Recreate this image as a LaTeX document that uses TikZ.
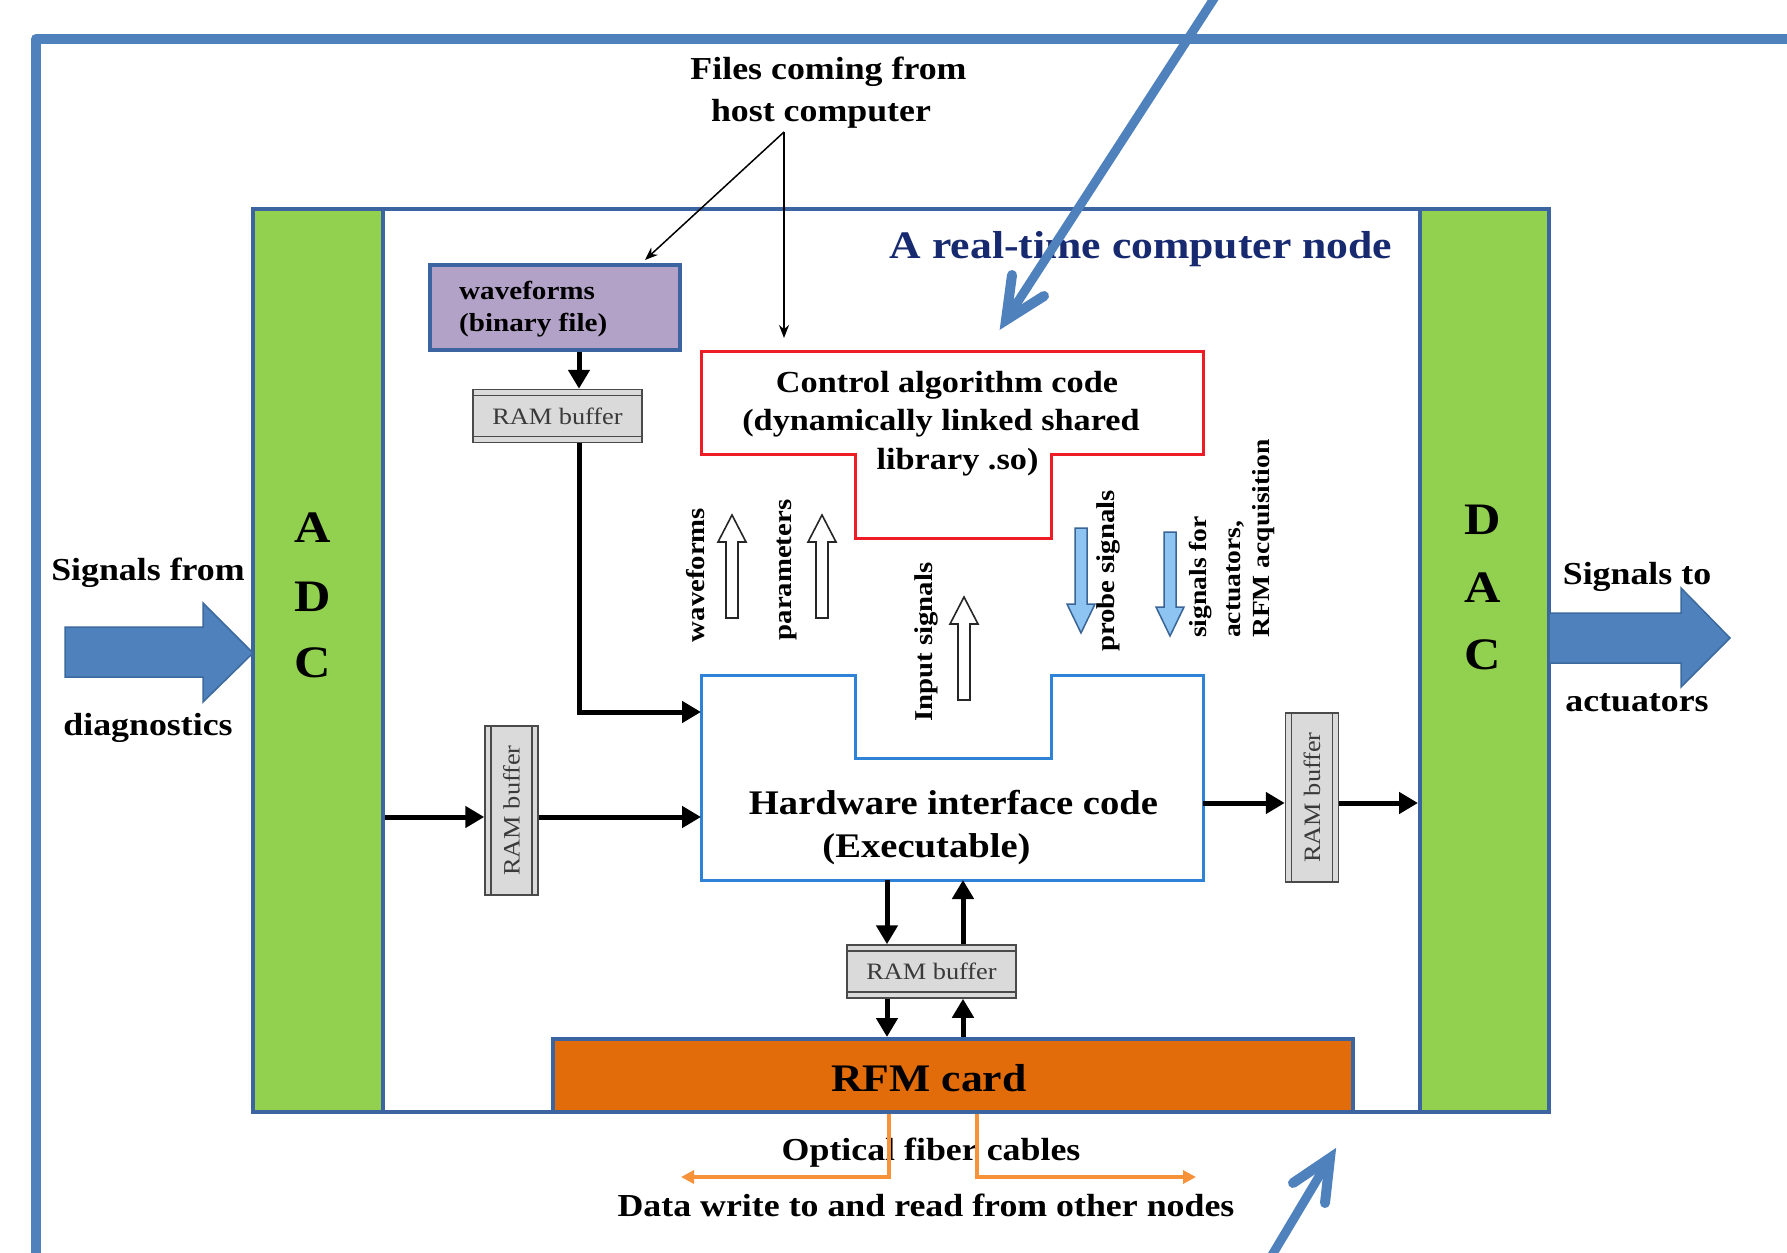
\documentclass[tikz,border=0pt]{standalone}
\usepackage{graphicx}
\usepackage{fontspec}
\setmainfont{Liberation Serif}[FakeStretch=1.12]
\usetikzlibrary{arrows.meta,calc}
\definecolor{frameblue}{HTML}{4F81BD}
\definecolor{boxblue}{HTML}{3B64A0}
\definecolor{adcgreen}{HTML}{92D050}
\definecolor{lav}{HTML}{B3A2C7}
\definecolor{ctrlred}{HTML}{EE1C25}
\definecolor{hwblue}{HTML}{2F83D6}
\definecolor{titlenavy}{HTML}{172A70}
\definecolor{rfmorange}{HTML}{E36C0A}
\definecolor{fiber}{HTML}{F7923A}
\definecolor{lightblue}{HTML}{8DC4F2}
\definecolor{ramgray}{HTML}{DADADA}
\definecolor{ramedge}{HTML}{4A4A4A}
\definecolor{ramtext}{HTML}{3A3A3A}
\definecolor{arrowedge}{HTML}{3A6496}
\definecolor{bigedge}{HTML}{3C6A9E}
\newcommand\fsz[1]{\fontsize{#1pt}{#1pt}\selectfont}
% x, tail y, tip y, head-base y, style
\newcommand\fatarr[5]{%
  \draw[#5] ({#1-6},{#2}) -- ({#1-6},{#4}) -- ({#1-14},{#4}) -- ({#1},{#3})
    -- ({#1+14},{#4}) -- ({#1+6},{#4}) -- ({#1+6},{#2}) -- cycle;}
\tikzset{
  lbl/.style={inner sep=0pt, font=\bfseries\fsz{32}},
  rlbl/.style={inner sep=0pt, rotate=90, font=\bfseries\fsz{25.7}},
  letter/.style={inner sep=0pt, font=\bfseries\fsz{45}},
  barrow/.style={line width=5pt, -{Triangle[length=19pt,width=21pt]}},
  thinarrow/.style={line width=1.5pt, -{Stealth[length=13pt,width=10pt]}},
  fiberarrow/.style={draw=fiber, line width=3.5pt, -{Triangle[length=13pt,width=13pt]}},
  hollow/.style={draw=black!85, fill=white, line width=1.6pt},
  bluearr/.style={draw=arrowedge, fill=lightblue, line width=1.5pt},
  bigarrow/.style={draw=bigedge, fill=frameblue, line width=1.5pt},
  ramh/.style={draw=ramedge, fill=ramgray, line width=1.5pt, minimum width=169pt,
    minimum height=53pt, inner sep=0pt, text=ramtext, font=\fsz{23.5},
    path picture={\draw[ramedge, line width=1.5pt]
      ([yshift=-6pt]path picture bounding box.north west) -- ([yshift=-6pt]path picture bounding box.north east)
      ([yshift=6pt]path picture bounding box.south west) -- ([yshift=6pt]path picture bounding box.south east);}},
  ramv/.style={draw=ramedge, fill=ramgray, line width=1.5pt, minimum width=53pt,
    minimum height=169pt, inner sep=0pt, text=ramtext, font=\fsz{23.5},
    path picture={\draw[ramedge, line width=1.5pt]
      ([xshift=6pt]path picture bounding box.north west) -- ([xshift=6pt]path picture bounding box.south west)
      ([xshift=-6pt]path picture bounding box.north east) -- ([xshift=-6pt]path picture bounding box.south east);}},
  blueline/.style={draw=frameblue, line cap=round},
}
\begin{document}
\begin{tikzpicture}[x=1pt,y=-1pt]
\useasboundingbox[fill=white] (0,0) rectangle (1787,1252);
\clip (0,0) rectangle (1787,1252);

% outer frame
\draw[frameblue, line width=10pt, line join=round] (36,1300) -- (36,39) -- (1820,39);

% real-time node box, ADC and DAC
\node[draw=boxblue, line width=4pt, minimum width=1296pt, minimum height=903pt, inner sep=0pt] (rt) at (901,660.5) {};
\node[draw=boxblue, fill=adcgreen, line width=4pt, minimum width=130pt, minimum height=903pt, inner sep=0pt] (adc) at (318,660.5) {};
\node[draw=boxblue, fill=adcgreen, line width=4pt, minimum width=129pt, minimum height=903pt, inner sep=0pt] (dac) at (1484.5,660.5) {};
\node[letter] (adcA) at (313,528) {A};
\node[letter] (adcD) at (313,597) {D};
\node[letter] (adcC) at (313,663) {C};
\node[letter] (dacD) at (1483,520) {D};
\node[letter] (dacA) at (1483,588) {A};
\node[letter] (dacC) at (1483,655) {C};

% big input / output arrows
\draw[bigarrow] (65,627) -- (203,627) -- (203,603) -- (253,653) -- (203,702) -- (203,677) -- (65,677) -- cycle;
\draw[bigarrow] (1549,613) -- (1681,613) -- (1681,588) -- (1730,638) -- (1681,687) -- (1681,663) -- (1549,663) -- cycle;
\node[lbl] (sigfrom) at (148,573) {Signals from};
\node[lbl] (diag) at (148,728) {diagnostics};
\node[lbl] (sigto) at (1637,577) {Signals to};
\node[lbl] (act) at (1637,703) {actuators};

% files from host
\node[lbl, anchor=base] (files1) at (828.5,80) {Files coming from};
\node[lbl, anchor=base] (files2) at (821,122) {host computer};
\coordinate (apex) at (784,132);
\coordinate (ctlin) at (784,338);

% title
\node[inner sep=0pt, anchor=base, text=titlenavy, font=\bfseries\fsz{39}] (title) at (1141,258) {A real-time computer node};

% waveforms file
\node[draw=boxblue, fill=lav, line width=4pt, minimum width=250pt, minimum height=85pt, inner sep=0pt] (wf) at (555,307.5) {};
\node[inner sep=0pt, anchor=base west, font=\bfseries\fsz{26}] (wf1) at (459,299) {waveforms};
\node[inner sep=0pt, anchor=base west, font=\bfseries\fsz{26}] (wf2) at (459,331) {(binary file)};
\draw[thinarrow] (apex) -- ($(wf.north east)+(-37,-3)$);
\draw[thinarrow] (apex) -- (ctlin);

% control algorithm code
\draw[ctrlred, line width=3pt] (701,351) -- (1203,351) -- (1203,454) -- (1051,454) -- (1051,538)
  -- (855,538) -- (855,454) -- (701,454) -- cycle;
\node[lbl, font=\bfseries\fsz{30.6}] (ctl1) at (947,385) {Control algorithm code};
\node[lbl, font=\bfseries\fsz{30.6}] (ctl2) at (941,423) {(dynamically linked shared};
\node[lbl, font=\bfseries\fsz{30.6}] (ctl3) at (957.5,462) {library .so)};

% hardware interface code
\node[minimum width=502pt, minimum height=205pt, inner sep=0pt, outer sep=0pt] (hw) at (952,777.5) {};
\draw[hwblue, line width=3pt] (701,675) -- (855,675) -- (855,758) -- (1051,758) -- (1051,675) -- (1203,675)
  -- (1203,880) -- (701,880) -- cycle;
\node[lbl, font=\bfseries\fsz{34.5}] (hw1) at (953.5,803) {Hardware interface code};
\node[lbl, font=\bfseries\fsz{34.5}] (hw2) at (926.5,849) {(Executable)};

% data-flow arrows between code blocks
\fatarr{732}{618}{515}{542}{hollow}
\fatarr{822}{618}{515}{542}{hollow}
\fatarr{964}{700}{597}{624}{hollow}
\fatarr{1081}{528}{633}{604}{bluearr}
\fatarr{1170}{532}{636}{607}{bluearr}
\node[rlbl] (lwave) at (696,575) {waveforms};
\node[rlbl] (lpar) at (787,570) {parameters};
\node[rlbl] (linp) at (926,642) {Input signals};
\node[rlbl] (lprobe) at (1108,571) {probe signals};
\node[rlbl, anchor=west, font=\bfseries\fsz{24.6}] (lsig1) at (1201,638) {signals for};
\node[rlbl, anchor=west, font=\bfseries\fsz{24.6}] (lsig2) at (1235,638) {actuators,};
\node[rlbl, anchor=west, font=\bfseries\fsz{24.6}] (lsig3) at (1264,638) {RFM acquisition};

% RAM buffers
\node[ramh] (ramT) at (557.5,416) {RAM buffer};
\node[ramv] (ramL) at (511.5,810.5) {\rotatebox{90}{RAM buffer}};
\node[ramv] (ramR) at (1312,797.5) {\rotatebox{90}{RAM buffer}};
\node[ramh] (ramB) at (931.5,971.5) {RAM buffer};

\coordinate (xT) at (579,0);
\coordinate (yT) at (0,712);
\coordinate (yL) at (0,817);
\coordinate (yR) at (0,803);
\coordinate (xD) at (887,0);
\coordinate (xU) at (963,0);
\draw[barrow] (wf.south -| xT) -- (ramT.north -| xT);
\draw[barrow] (ramT.south -| xT) |- (hw.west |- yT);
\draw[barrow] (adc.east |- yL) -- (ramL.west |- yL);
\draw[barrow] (ramL.east |- yL) -- (hw.west |- yL);
\draw[barrow] (hw.east |- yR) -- (ramR.west |- yR);
\draw[barrow] (ramR.east |- yR) -- (dac.west |- yR);

% RFM card
\node[draw=boxblue, fill=rfmorange, line width=4pt, minimum width=800pt, minimum height=73pt, inner sep=0pt] (rfm) at (953,1075.5) {};
\node[lbl, font=\bfseries\fsz{39}] (rfmtxt) at (929,1078) {RFM card};
\draw[barrow] (hw.south -| xD) -- (ramB.north -| xD);
\draw[barrow] (ramB.north -| xU) -- (hw.south -| xU);
\draw[barrow] (ramB.south -| xD) -- (rfm.north -| xD);
\draw[barrow] (rfm.north -| xU) -- (ramB.south -| xU);

% optical fibers
\node[lbl] (opt) at (931,1153) {Optical fiber cables};
\node[lbl] (data) at (926,1205) {Data write to and read from other nodes};
\coordinate (xF1) at (889,0);
\coordinate (xF2) at (977,0);
\coordinate (fibL) at (681,1177);
\coordinate (fibR) at (1196,1177);
\draw[fiberarrow] (rfm.south -| xF1) |- (fibL);
\draw[fiberarrow] (rfm.south -| xF2) |- (fibR);

% pointer arrows (from the enclosing figure)
\draw[blueline, line width=9pt] (1226,-20) -- (1006,320);
\draw[blueline, line width=10pt, line join=miter] (1012,275) -- (1006,320) -- (1044,296);
\draw[blueline, line width=9pt] (1253,1287) -- (1330,1158);
\draw[blueline, line width=10pt, line join=miter] (1325,1203) -- (1330,1158) -- (1293,1183);
\end{tikzpicture}
\end{document}
